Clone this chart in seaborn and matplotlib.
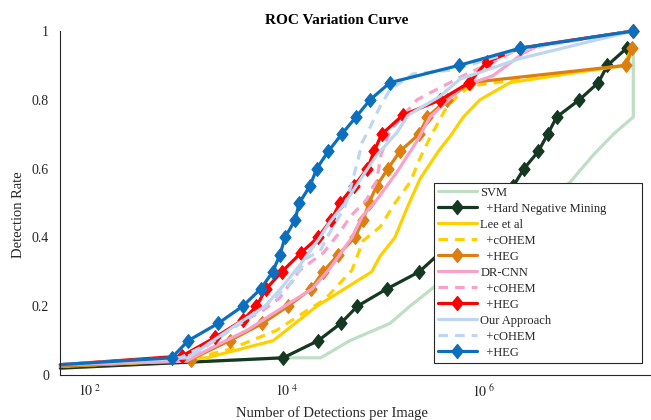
import numpy as np
import pandas as pd
import seaborn as sns
import matplotlib
matplotlib.use("Agg")
import matplotlib.pyplot as plt
from matplotlib.lines import Line2D
from matplotlib.ticker import FixedLocator, FuncFormatter, NullLocator

# ---------------- data ----------------
svm_x = [50, 9330, 22000, 43600, 111000, 177000, 294000, 7.46e6, 1.29e7, 2.06e7, 3.28e7, 3.28e7]
svm_y = [0.02, 0.05, 0.05, 0.10, 0.15, 0.20, 0.25, 0.56, 0.64, 0.70, 0.75, 0.96]

hnm_x = [50, 9160, 20800, 35100, 51800, 102800, 220000, 1.99e6, 2.55e6, 3.56e6, 4.43e6,
         5.47e6, 9.29e6, 1.45e7, 1.79e7, 2.81e7]
hnm_y = [0.02, 0.05, 0.10, 0.15, 0.20, 0.25, 0.30, 0.55, 0.60, 0.65, 0.70,
         0.75, 0.80, 0.85, 0.90, 0.95]

lee_x = [50, 701, 1530, 7260, 20030, 72400, 87900, 124800, 165200, 224000, 343700,
         469900, 616600, 909900, 1.837e6, 2.59e7, 3.2e7]
lee_y = [0.025, 0.04, 0.05, 0.10, 0.20, 0.30, 0.345, 0.40, 0.485, 0.57, 0.65,
         0.70, 0.75, 0.80, 0.85, 0.90, 0.95]

leec_x = [50, 1036, 2640, 7860, 14530, 24320, 45700, 59100, 87900, 124800, 177400,
          224000, 283000, 401800, 532000, 721000, 2.77e7, 3.2e7]
leec_y = [0.025, 0.045, 0.075, 0.13, 0.18, 0.22, 0.305, 0.39, 0.43, 0.50, 0.56,
          0.63, 0.69, 0.77, 0.81, 0.84, 0.90, 0.95]

leeh_x = [50, 1048, 2620, 5640, 10240, 17530, 23200, 33200, 48980, 59100, 67940,
          81400, 106000, 140000, 218800, 266900, 417900, 721000, 2.77e7, 3.2e7]
leeh_y = [0.025, 0.045, 0.10, 0.15, 0.20, 0.25, 0.30, 0.35, 0.40, 0.45, 0.50,
          0.55, 0.60, 0.65, 0.70, 0.75, 0.80, 0.85, 0.90, 0.95]

dr_x = [50, 944, 1946, 3924, 10720, 17940, 27340, 45700, 57700, 82000, 130900,
        208900, 283000, 401800, 612000, 1.233e6, 2.49e6, 3.70e6, 3.28e7]
dr_y = [0.03, 0.04, 0.087, 0.13, 0.21, 0.25, 0.31, 0.40, 0.46, 0.51, 0.59,
        0.68, 0.75, 0.79, 0.84, 0.87, 0.935, 0.96, 1.0]

drc_x = [50, 1036, 2830, 5535, 8490, 13550, 23380, 33200, 45400, 64450, 81400,
         90000, 111200, 208900, 283000, 721000, 1.15e6, 2.32e6, 3.28e7]
drc_y = [0.03, 0.05, 0.14, 0.185, 0.225, 0.305, 0.355, 0.41, 0.465, 0.51, 0.565,
         0.64, 0.71, 0.80, 0.82, 0.88, 0.905, 0.95, 1.0]

drh_x = [50, 859, 1880, 3575, 4900, 6120, 8840, 13870, 20640, 27990, 34540,
         47900, 65650, 76400, 91500, 149500, 361500, 709000, 1.065e6, 2.32e6, 3.28e7]
drh_y = [0.03, 0.055, 0.11, 0.16, 0.20, 0.25, 0.30, 0.355, 0.40, 0.45, 0.50,
         0.55, 0.60, 0.65, 0.70, 0.755, 0.80, 0.85, 0.91, 0.95, 1.0]

our_x = [50, 988, 1773, 3410, 5980, 9170, 13550, 21620, 27340, 38800, 59100,
         82000, 130900, 169100, 357300, 570400, 2.32e6, 3.28e7]
our_y = [0.03, 0.05, 0.10, 0.155, 0.20, 0.26, 0.32, 0.40, 0.445, 0.50, 0.58,
         0.64, 0.705, 0.755, 0.81, 0.86, 0.92, 1.0]

ourc_x = [50, 820, 1858, 3575, 5980, 11240, 15960, 21620, 27340, 38800, 45700,
          52570, 57700, 69690, 87900, 111200, 190300, 484400, 2.32e6, 3.28e7]
ourc_y = [0.03, 0.05, 0.10, 0.155, 0.20, 0.27, 0.34, 0.36, 0.415, 0.49, 0.56,
          0.625, 0.675, 0.72, 0.78, 0.83, 0.875, 0.887, 0.945, 1.0]

ourh_x = [50, 675, 995, 2000, 3550, 5400, 7160, 8490, 9550, 12050, 13330,
          17140, 20030, 26240, 35890, 50190, 69690, 111200, 557000, 2.32e6, 3.28e7]
ourh_y = [0.03, 0.05, 0.10, 0.15, 0.20, 0.25, 0.30, 0.35, 0.40, 0.45, 0.50,
          0.55, 0.60, 0.65, 0.70, 0.75, 0.80, 0.85, 0.90, 0.95, 1.0]

labels = ["SVM", "  +Hard Negative Mining", "Lee et al", "  +cOHEM", "  +HEG",
          "DR-CNN", "  +cOHEM", "  +HEG", "Our Approach", "  +cOHEM", "  +HEG"]
x_ticks = [1e2, 1e4, 1e6]
y_ticks = [0, 0.2, 0.4, 0.6, 0.8, 1.0]

# ---------------- style ----------------
sns.set_theme(style="white")
plt.rcParams["font.family"] = ["Liberation Serif", "DejaVu Serif"]
plt.rcParams["mathtext.fontset"] = "stix"

AX = "#262626"
diamond = [(0, 1), (0.8, 0), (0, -1), (-0.8, 0), (0, 1)]
dash = (0, (3, 2.2))
LW = 2.3
MS = 10

series = [
    (svm_x, svm_y, "#bfdec3", "-", False),
    (hnm_x, hnm_y, "#143822", "-", True),
    (lee_x, lee_y, "#ffd000", "-", False),
    (leec_x, leec_y, "#ffd000", dash, False),
    (leeh_x, leeh_y, "#dc7f0e", "-", True),
    (dr_x, dr_y, "#f8a2c9", "-", False),
    (drc_x, drc_y, "#f8a2c9", dash, False),
    (drh_x, drh_y, "#ff0000", "-", True),
    (our_x, our_y, "#bed6f1", "-", False),
    (ourc_x, ourc_y, "#bed6f1", dash, False),
    (ourh_x, ourh_y, "#0b6fbd", "-", True),
]

fig = plt.figure(figsize=(6.51, 4.20), dpi=100)
ax = fig.add_axes([60 / 651, 45 / 420, 591 / 651, 344 / 420])
ax.set_xscale("log")

handles = []
for (xs, ys, col, ls, mk), lab in zip(series, labels):
    df = pd.DataFrame({"x": xs, "y": ys})
    kw = dict(color=col, linewidth=LW, linestyle=ls)
    if mk:
        kw.update(marker=diamond, markersize=MS, markeredgecolor=col,
                  markerfacecolor=col, markeredgewidth=0.8,
                  markevery=slice(1, None))
    sns.lineplot(data=df, x="x", y="y", ax=ax, sort=False, estimator=None,
                 legend=False, **kw)
    ax.get_lines()[-1].set_clip_on(False)
    hkw = dict(color=col, linewidth=LW, linestyle=ls)
    if mk:
        hkw.update(marker=diamond, markersize=MS, markeredgecolor=col,
                   markerfacecolor=col)
    handles.append(Line2D([], [], **hkw))

ax.set_xlim(49.6, 4.96e7)
ax.set_ylim(0, 1)
ax.set_xlabel("")
ax.set_ylabel("")

for s in ["top", "right"]:
    ax.spines[s].set_visible(False)
for s in ["left", "bottom"]:
    ax.spines[s].set_color(AX)
    ax.spines[s].set_linewidth(0.8)

ax.xaxis.set_major_locator(FixedLocator(x_ticks))
ax.xaxis.set_minor_locator(NullLocator())
ax.xaxis.set_major_formatter(FuncFormatter(lambda v, p: r"$10^{\ %d}$" % round(np.log10(v))))
ax.yaxis.set_major_locator(FixedLocator(y_ticks))
ax.yaxis.set_major_formatter(FuncFormatter(lambda v, p: "%g" % v))
ax.tick_params(axis="both", direction="in", length=5, width=0.8, colors=AX,
               labelsize=10, labelcolor=AX)
ax.tick_params(axis="x", pad=6)
ax.tick_params(axis="y", pad=8)

fig.text(337 / 651, (420 - 24) / 420, "ROC Variation Curve", ha="center",
         va="baseline", fontsize=11, fontweight="bold", color="black")
fig.text(19 / 651, 1 - 215 / 420, "Detection Rate", rotation=90, ha="center",
         va="center", fontsize=10.5, color=AX)
fig.text(332 / 651, (420 - 417) / 420, "Number of Detections per Image",
         ha="center", va="baseline", fontsize=10.5, color=AX)

x0 = (434 - 60) / 591
x1 = (642 - 60) / 591
ytop = (375 - 183) / 344
ybot = (375 - 363) / 344
leg = ax.legend(handles, labels, loc="upper left",
                bbox_to_anchor=(x0, ybot, x1 - x0, ytop - ybot), mode="expand",
                borderaxespad=0, fontsize=9, frameon=True, fancybox=False,
                framealpha=1, edgecolor=AX, handlelength=3.1, handletextpad=0.3,
                labelspacing=0.32, borderpad=0.3)
leg.get_frame().set_linewidth(0.8)
leg.set_zorder(10)

fig.savefig("out.png", dpi=100)
